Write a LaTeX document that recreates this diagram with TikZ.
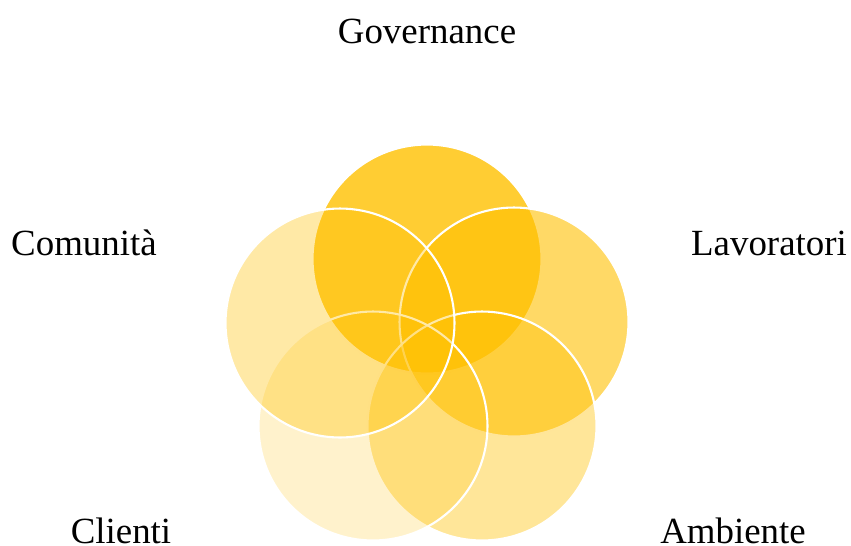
\documentclass[tikz,border=0pt]{standalone}
\usepackage{fontspec}
\setmainfont{Liberation Serif}
\usetikzlibrary{positioning}
\definecolor{vennGold}{HTML}{FFC000}

\begin{document}
\begin{tikzpicture}[x=0.02cm, y=-0.02cm, font=\fontsize{21}{25}\selectfont]

		\useasboundingbox (0,0) rectangle (851,545);

		\tikzstyle{petal} = [circle, draw=white, line width=1.2pt, fill=vennGold, minimum size=4.58cm, inner sep=0pt]
		\tikzstyle{label} = [inner sep=0pt, anchor=center]

		% Circles
		\node[petal, fill opacity=0.8] (governance) at (427,259) {};
		\node[petal, fill opacity=0.6] (lavoratori) at (514,322) {};
		\node[petal, fill opacity=0.4] (ambiente) at (482,426) {};
		\node[petal, fill opacity=0.2] (clienti) at (373,426) {};
		\node[petal, fill opacity=0.35] (comunita) at (340,323) {};

		% Labels
		\node[label] (governanceText) at (427,31) {Governance};
		\node[label] (lavoratoriText) at (769,243) {Lavoratori};
		\node[label] (ambienteText) at (733,531) {Ambiente};
		\node[label] (clientiText) at (121,531) {Clienti};
		\node[label] (comunitaText) at (84,243) {Comunità};

	\end{tikzpicture}
\end{document}
